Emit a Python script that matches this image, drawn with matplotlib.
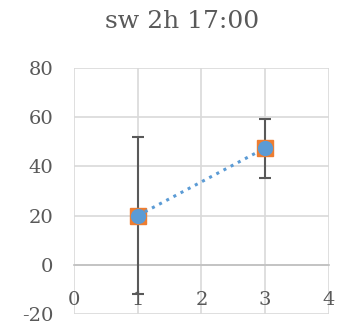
import matplotlib
matplotlib.use("Agg")
import matplotlib.pyplot as plt

x = [1, 3]
sq_vals = [20, 47.5]
circ_vals = [20, 47.5]
err = [32, 12]
xticks = [0, 1, 2, 3, 4]
yticks = [-20, 0, 20, 40, 60, 80]
title = "sw 2h 17:00"

grey = "#595959"
plt.rcParams["font.family"] = ["DejaVu Serif"]
plt.rcParams["axes.unicode_minus"] = False

fig = plt.figure(figsize=(3.39, 3.29), dpi=100)
ax = fig.add_axes([0.218, 0.0456, 0.7525, 0.7474])

ax.errorbar(x, sq_vals, yerr=err, fmt="s", color="#ED7D31", ms=11,
            ecolor=grey, elinewidth=1.5, capsize=4.5, capthick=1.5, zorder=3)
ax.plot(x, circ_vals, ":", color="#5B9BD5", lw=2.2, marker="o", ms=10, zorder=4)

ax.set_xlim(0, 4)
ax.set_ylim(-20, 80)
ax.set_xticks(xticks)
ax.set_yticks(yticks)
ax.grid(True, color="#d9d9d9", lw=1.2)
ax.set_axisbelow(True)
for s in ["top", "right", "left"]:
    ax.spines[s].set_visible(False)
ax.spines["bottom"].set_position(("data", 0))
ax.spines["bottom"].set_color("#bfbfbf")
ax.spines["bottom"].set_linewidth(1.2)
ax.tick_params(length=0, labelsize=14, colors=grey)
ax.tick_params(axis="y", pad=15)
ax.tick_params(axis="x", pad=19)
fig.text(0.537, 0.935, title, fontsize=18, color=grey, ha="center", va="center")

fig.savefig("out.png", dpi=100)
